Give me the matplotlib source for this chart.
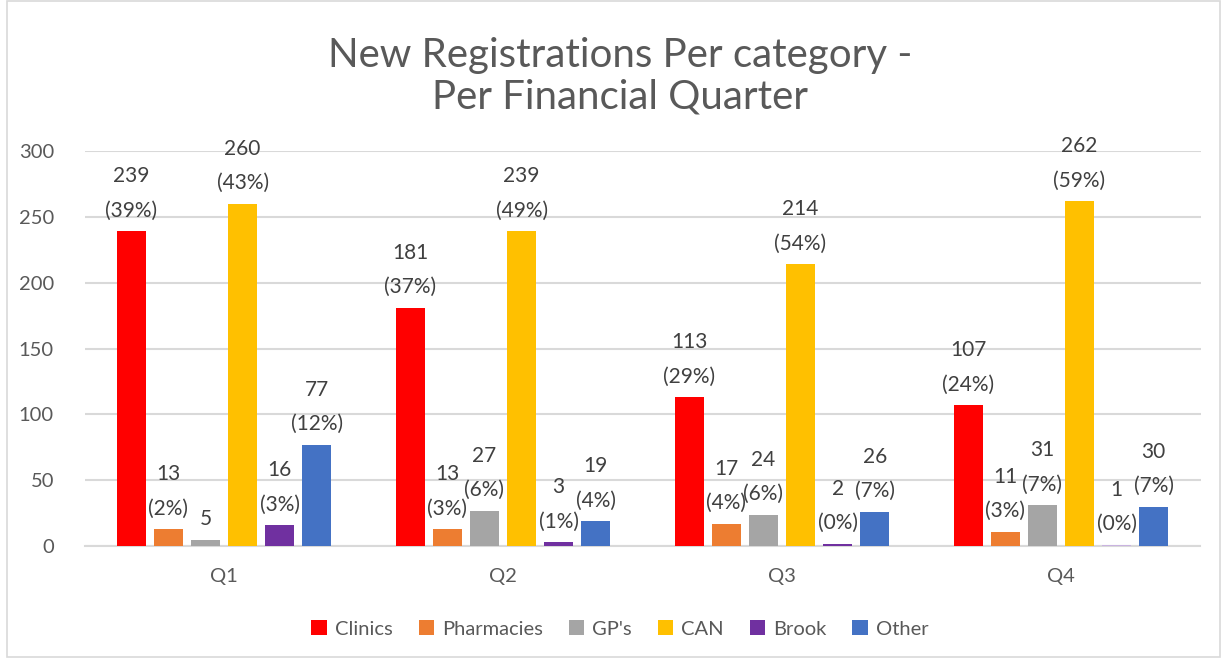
import matplotlib.pyplot as plt
from matplotlib.patches import Rectangle
import numpy as np

quarters = ['Q1', 'Q2', 'Q3', 'Q4']
series = ['Clinics', 'Pharmacies', "GP's", 'CAN', 'Brook', 'Other']
colors = ['#ff0000', '#ed7d31', '#a5a5a5', '#ffc000', '#7030a0', '#4472c4']

clinics = [239, 181, 113, 107]
pharmacies = [13, 13, 17, 11]
gps = [5, 27, 24, 31]
can = [260, 239, 214, 262]
brook = [16, 3, 2, 1]
other = [77, 19, 26, 30]

clinics_pct = ['39%', '37%', '29%', '24%']
pharmacies_pct = ['2%', '3%', '4%', '3%']
gps_pct = ['', '6%', '6%', '7%']
can_pct = ['43%', '49%', '54%', '59%']
brook_pct = ['3%', '1%', '0%', '0%']
other_pct = ['12%', '4%', '7%', '7%']

values = [clinics, pharmacies, gps, can, brook, other]
pcts = [clinics_pct, pharmacies_pct, gps_pct, can_pct, brook_pct, other_pct]

plt.rcParams['font.family'] = ['Lato', 'DejaVu Sans']

fig = plt.figure(figsize=(12.25, 6.62), dpi=100)
ax = fig.add_axes([0.069, 0.175, 0.911, 0.597])

x = np.arange(len(quarters))
step = 0.133
width = 0.104
text_color = '#404040'

for i, (name, vals, pc, col) in enumerate(zip(series, values, pcts, colors)):
    pos = x + (i - 2.5) * step
    bar_cols = [col] * len(vals)
    if name == 'Brook':
        bar_cols[3] = '#c9b3e0'
    ax.bar(pos, vals, width, color=bar_cols, label=name, zorder=3)
    for xp, v, p in zip(pos, vals, pc):
        txt = f'{v}\n({p})' if p else f'{v}'
        ax.text(xp, v + 8, txt, ha='center', va='bottom', fontsize=15,
                color=text_color, linespacing=1.9, zorder=4)

ax.set_xlim(-0.5, 3.5)
ax.set_ylim(0, 300)
ax.set_yticks(range(0, 301, 50))
ax.set_xticks(x)
ax.set_xticklabels(quarters)
ax.tick_params(axis='both', length=0, labelsize=14.5, labelcolor='#595959')
ax.tick_params(axis='x', pad=16)
ax.tick_params(axis='y', pad=22)
ax.grid(axis='y', color='#d9d9d9', linewidth=1.5, zorder=0)
for s in ['top', 'right', 'left']:
    ax.spines[s].set_visible(False)
ax.spines['bottom'].set_color('#d9d9d9')
ax.spines['bottom'].set_linewidth(1.5)

fig.text(0.506, 0.885, 'New Registrations Per category -\nPer Financial Quarter',
         ha='center', va='center', fontsize=29, color='#595959', linespacing=1.14)

handles, labels = ax.get_legend_handles_labels()
leg = fig.legend(handles, labels, loc='center', bbox_to_anchor=(0.506, 0.05), ncol=6,
                 frameon=False, fontsize=14.5, handlelength=0.75, handleheight=0.75,
                 handletextpad=0.4, columnspacing=1.3)
for t in leg.get_texts():
    t.set_color('#595959')
leg.legend_handles[4].set_facecolor('#7030a0')

fig.patches.append(Rectangle((0.006, 0.008), 0.99, 0.99, transform=fig.transFigure,
                             fill=False, edgecolor='#d9d9d9', linewidth=1.2))

fig.savefig('out.png', dpi=100)
